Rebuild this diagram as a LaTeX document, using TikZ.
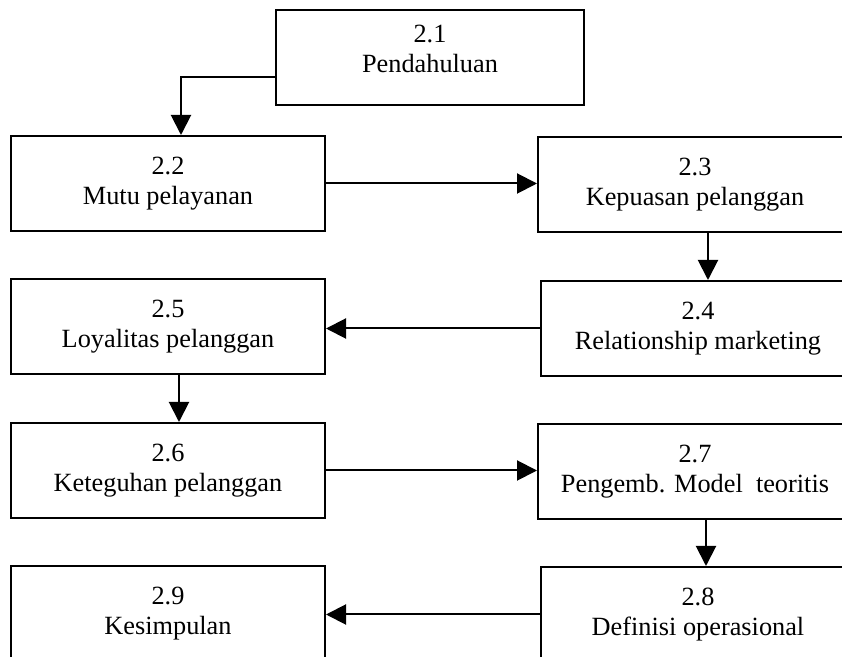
\documentclass[tikz,border=0pt]{standalone}
\usepackage{fontspec}
\setmainfont{Liberation Serif}
\usetikzlibrary{arrows.meta}

\tikzset{
  box/.style={draw, line width=1pt, rectangle, minimum height=47.5pt,
    inner sep=0pt, align=center,
    font=\fontsize{13.15pt}{15pt}\selectfont},
  arr/.style={line width=1pt, -{Triangle[length=10pt,width=10pt]}}
}

\begin{document}
\begin{tikzpicture}[x=0.5pt, y=-0.5pt]
  \useasboundingbox (0,0) rectangle (842,657);
  \clip (0,0) rectangle (842,657);
  \fill[white] (0,0) rectangle (842,657);

  % boxes (right column runs past the page edge)
  \node[box, minimum width=154pt] (b21) at (430,58)
    {2.1\\Pendahuluan\rule[-9pt]{0pt}{9pt}};
  \node[box, minimum width=157pt] (b22) at (168,183.5) {2.2\\Mutu pelayanan};
  \node[box, minimum width=157pt] (b23) at (695,184.5) {2.3\\Kepuasan pelanggan};
  \node[box, minimum width=157pt] (b25) at (168,327)   {2.5\\Loyalitas pelanggan};
  \node[box, minimum width=157pt] (b24) at (698,328.5) {2.4\\Relationship marketing};
  \node[box, minimum width=157pt] (b26) at (168,470.5) {2.6\\Keteguhan pelanggan};
  \node[box, minimum width=157pt] (b27) at (695,471.5) {2.7\\Pengemb. Model\ \ teoritis};
  \node[box, minimum width=157pt] (b29) at (168,614)   {2.9\\Kesimpulan};
  \node[box, minimum width=157pt] (b28) at (698,614.5) {2.8\\Definisi operasional};

  % bend point and vertical lanes of the connectors
  \coordinate (k12) at (181,77);
  \coordinate (k34) at (708,0);
  \coordinate (k56) at (179,0);
  \coordinate (k78) at (706,0);

  % connectors
  \draw[arr] (b21.west |- k12) -- (k12) -- (b22.north -| k12);
  \draw[arr] (b22.east) -- (b23.west |- b22.east);
  \draw[arr] (b23.south -| k34) -- (b24.north -| k34);
  \draw[arr] (b24.west) -- (b25.east |- b24.west);
  \draw[arr] (b25.south -| k56) -- (b26.north -| k56);
  \draw[arr] (b26.east) -- (b27.west |- b26.east);
  \draw[arr] (b27.south -| k78) -- (b28.north -| k78);
  \draw[arr] (b28.west) -- (b29.east |- b28.west);
\end{tikzpicture}
\end{document}
